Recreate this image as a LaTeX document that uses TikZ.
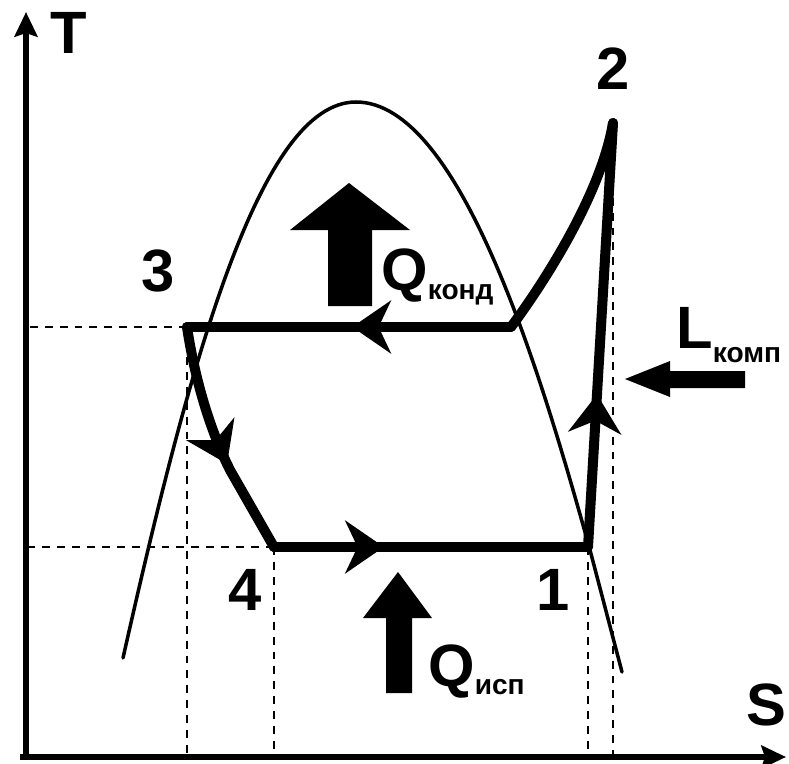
\documentclass[tikz,border=0pt]{standalone}
\usepackage{fontspec}
\setmainfont{Liberation Sans}
\usetikzlibrary{arrows.meta,decorations.markings}

\newcommand{\lowsub}[2]{\raisebox{-#1}{\fontsize{16}{16}\selectfont #2}}

\begin{document}
\begin{tikzpicture}[
  x=0.02cm, y=-0.02cm,
  axisline/.style={line width=3.5pt, -{Stealth[length=14pt, width=13pt, inset=2pt]}},
  domeline/.style={line width=2pt, line cap=round},
  guideline/.style={line width=1.4pt, dash pattern=on 4.5pt off 4pt},
  cycleline/.style={line width=5.7pt, line cap=round, line join=round},
  flowtip/.style={decoration={markings,
    mark=at position #1 with {\arrow{Stealth[length=22pt, width=30pt, inset=7pt]}}},
    postaction={decorate}},
  bignum/.style={font=\fontsize{34}{34}\selectfont\bfseries, inner sep=0pt}
]
\useasboundingbox (0,0) rectangle (789,764);

% points of the cycle
\coordinate (o) at (26,757);
\coordinate (p1) at (588,547);
\coordinate (p2) at (613,123);
\coordinate (p3) at (187,327);
\coordinate (p4) at (274,547);
\coordinate (cond) at (511,327);
\coordinate (top) at (356,102);

% guide lines
\draw[guideline] (p3) -- (p3 -| o);
\draw[guideline] (p4) -- (p4 -| o);
\draw[guideline] (p3) -- (p3 |- o);
\draw[guideline] (p4) -- (p4 |- o);
\draw[guideline] (p1) -- (p1 |- o);
\draw[guideline] (p2) -- (p2 |- o);

% axes
\draw[axisline] (20,757) -- (786,757);
\draw[axisline] (26,760) -- (26,12);
\node[bignum] (taxis) at (69,33) {T};
\node[bignum] (saxis) at (766,705) {S};

% saturation dome
\draw[domeline] (123,658) .. controls (190,360) and (260,102) .. (top)
  .. controls (460,102) and (540,370) .. (590,550) -- (622,672);

% cycle
\draw[cycleline, flowtip=0.36] (p1) -- (p2);
\draw[cycleline] (p2) .. controls (600,200) and (535,295) .. (cond);
\draw[cycleline, flowtip=0.49] (cond) -- (p3);
\draw[cycleline, flowtip=0.6] (p3) .. controls (195,380) and (210,430) .. (230,470) -- (p4);
\draw[cycleline, flowtip=0.35] (p4) -- (p1);

\node[bignum] (n1) at (553,590) {1};
\node[bignum] (n2) at (613,69) {2};
\node[bignum] (n3) at (158,271) {3};
\node[bignum] (n4) at (245,590) {4};

% heat and work
\fill (349,183) -- (410,230) -- (372,230) -- (372,306) -- (328,306) -- (328,230) -- (290,230) -- cycle;
\fill (398,572) -- (432,618) -- (412,618) -- (412,693) -- (386,693) -- (386,618) -- (363,618) -- cycle;
\fill (625,379) -- (670,361) -- (670,371) -- (745,371) -- (745,388) -- (670,388) -- (670,397) -- cycle;
\node[bignum, anchor=base west] (qcond) at (381,290) {Q\lowsub{5.5pt}{конд}};
\node[bignum, anchor=base west] (qevap) at (428,686) {Q\lowsub{5pt}{исп}};
\node[bignum, anchor=base west] (lcomp) at (676,348) {L\lowsub{8pt}{комп}};
\end{tikzpicture}
\end{document}
